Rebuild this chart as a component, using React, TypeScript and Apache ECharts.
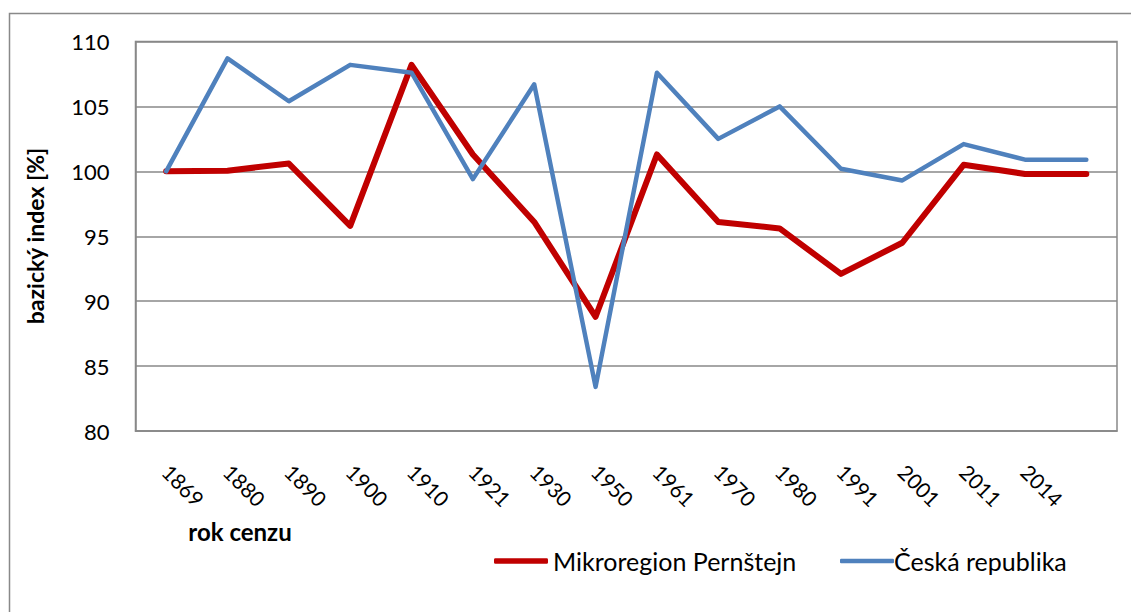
import React, { useEffect, useRef } from "react";
import * as echarts from "echarts";

const years = ["1869", "1880", "1890", "1900", "1910", "1921", "1930", "1950", "1961", "1970", "1980", "1991", "2001", "2011", "2014", ""];
const mikroregion = [100, 100.05, 100.6, 95.8, 108.2, 101.3, 96.1, 88.8, 101.3, 96.1, 95.6, 92.1, 94.5, 100.5, 99.8, 99.8];
const ceskaRepublika = [100, 108.7, 105.4, 108.2, 107.6, 99.4, 106.7, 83.4, 107.6, 102.5, 105.0, 100.2, 99.3, 102.1, 100.9, 100.9];
const seriesNames = ["Mikroregion Pernštejn", "Česká republika"];
const yAxisTitle = "bazický index [%]";
const xAxisTitle = "rok cenzu";

const FONT = "Lato";
const GRAY = "#898989";

export default function App() {
  const ref = useRef<HTMLDivElement>(null);
  useEffect(() => {
    document.body.style.margin = "0";
    if (!ref.current) return;
    const chart = echarts.init(ref.current, undefined, { renderer: "svg" });
    chart.setOption({
      animation: false,
      backgroundColor: "#ffffff",
      textStyle: { fontFamily: FONT },
      grid: {
        left: 135.5,
        top: 41.5,
        right: 14,
        bottom: 181,
        show: true,
        borderColor: GRAY,
        borderWidth: 1.5,
        containLabel: false,
      },
      graphic: [
        {
          type: "rect",
          z: -10,
          shape: { x: 9.5, y: 13.5, width: 1130, height: 610 },
          style: { fill: "none", stroke: GRAY, lineWidth: 1.5 },
          silent: true,
        },
        {
          type: "text",
          x: 35,
          y: 236,
          rotation: Math.PI / 2,
          style: {
            text: yAxisTitle,
            fontFamily: FONT,
            fontWeight: "bold",
            fontSize: 23,
            fill: "#000",
            align: "center",
            verticalAlign: "middle",
          },
        },
        {
          type: "text",
          x: 240,
          y: 531,
          style: {
            text: xAxisTitle,
            fontFamily: FONT,
            fontWeight: "bold",
            fontSize: 24,
            fill: "#000",
            align: "center",
            verticalAlign: "middle",
          },
        },
      ],
      legend: [
        {
          data: [seriesNames[0]],
          left: 489,
          top: 541,
          icon: "roundRect",
          itemWidth: 54,
          itemHeight: 5.5,
          itemGap: 0,
          textStyle: { fontFamily: FONT, fontSize: 25, color: "#000", padding: [0, 0, 0, 0], lineHeight: 30 },
        },
        {
          data: [seriesNames[1]],
          left: 835,
          top: 541,
          icon: "roundRect",
          itemWidth: 54,
          itemHeight: 4.5,
          itemGap: 0,
          textStyle: { fontFamily: FONT, fontSize: 25, color: "#000", padding: [0, 0, 0, -5], lineHeight: 30 },
        },
      ],
      xAxis: {
        type: "category",
        data: years,
        boundaryGap: true,
        axisLine: { lineStyle: { color: GRAY, width: 1.5 } },
        axisTick: { show: false },
        axisLabel: {
          interval: 0,
          rotate: -45,
          margin: 37,
          fontFamily: FONT,
          fontSize: 21,
          color: "#000",
        },
        splitLine: { show: false },
      },
      yAxis: {
        type: "value",
        min: 80,
        max: 110,
        interval: 5,
        axisLine: { show: true, lineStyle: { color: GRAY, width: 1.5 } },
        axisTick: { show: false },
        axisLabel: { margin: 26, fontFamily: FONT, fontSize: 22, color: "#000" },
        splitLine: { lineStyle: { color: GRAY, width: 1.5 } },
      },
      series: [
        {
          name: seriesNames[0],
          type: "line",
          data: mikroregion,
          symbol: "none",
          color: "#C00000",
          lineStyle: { color: "#C00000", width: 6, cap: "round", join: "round" },
          z: 2,
        },
        {
          name: seriesNames[1],
          type: "line",
          data: ceskaRepublika,
          symbol: "none",
          color: "#4F81BD",
          lineStyle: { color: "#4F81BD", width: 4.5, cap: "round", join: "round" },
          z: 3,
        },
      ],
    });
    return () => chart.dispose();
  }, []);
  return <div ref={ref} style={{ width: 1131, height: 612 }} />;
}
